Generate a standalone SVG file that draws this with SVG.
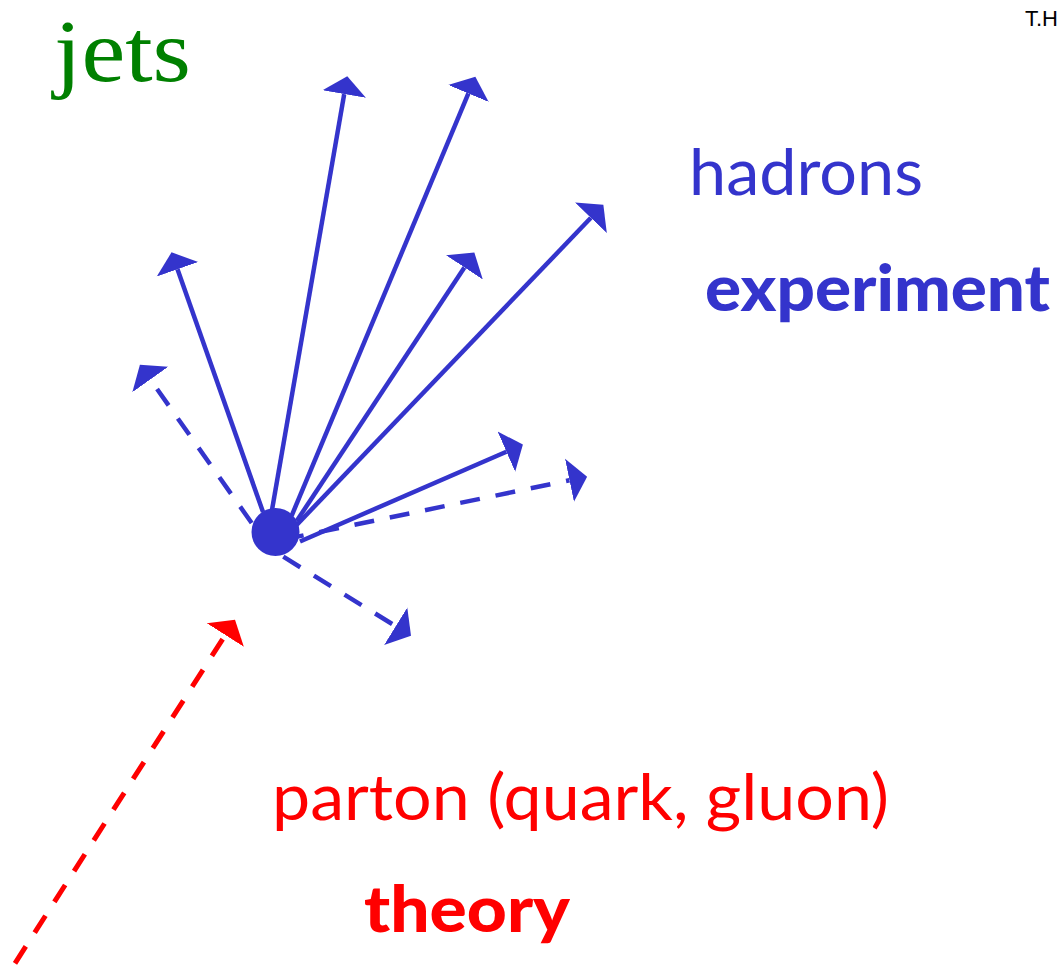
<svg xmlns="http://www.w3.org/2000/svg" width="1060" height="966" viewBox="0 0 1060 966">
<style>
.b{stroke:#3434cc;stroke-width:4.5;fill:none}
.d{stroke-dasharray:20 16}
.r{stroke:#ff0000;stroke-width:5;fill:none;stroke-dasharray:20 16.5}
.lab{font-family:Lato,"DejaVu Sans",sans-serif;font-size:64px}
.bold{font-weight:900}
.blue{fill:#3434cc}
.red{fill:#ff0000}
</style>
<defs>
<marker id="ab" markerUnits="userSpaceOnUse" markerWidth="20" markerHeight="46" viewBox="0 -23 20 46" refX="0" refY="0" orient="auto"><path d="M0,-22 L18,0 L0,22 Z" fill="#3434cc"/></marker>
<marker id="ar" markerUnits="userSpaceOnUse" markerWidth="20" markerHeight="46" viewBox="0 -23 20 46" refX="0" refY="0" orient="auto"><path d="M0,-22 L18,0 L0,22 Z" fill="#ff0000"/></marker>
</defs>
<rect width="1060" height="966" fill="#ffffff"/>
<g id="connectors">
<line class="b" x1="263" y1="512" x2="177.5" y2="269.3" marker-end="url(#ab)"/>
<line class="b" x1="272" y1="510" x2="344.2" y2="94.1" marker-end="url(#ab)"/>
<line class="b" x1="291.7" y1="515.6" x2="468.4" y2="93.4" marker-end="url(#ab)"/>
<line class="b" x1="296.7" y1="521" x2="464.4" y2="267.4" marker-end="url(#ab)"/>
<line class="b" x1="295" y1="526.7" x2="590.9" y2="217.8" marker-end="url(#ab)"/>
<line class="b" x1="300" y1="541.5" x2="506.4" y2="451.7" marker-end="url(#ab)"/>
<line class="b d" x1="284" y1="539.4" x2="569.5" y2="480.3" marker-end="url(#ab)"/>
<line class="b d" x1="251.7" y1="523" x2="150.3" y2="379.5" marker-end="url(#ab)"/>
<line class="b d" x1="283.3" y1="556.7" x2="395.7" y2="626.2" marker-end="url(#ab)"/>
<line class="r" x1="15" y1="963.3" x2="225.3" y2="635" marker-end="url(#ar)"/>
</g>
<g id="vertex"><circle cx="275.5" cy="532" r="24" fill="#3434cc"/></g>
<g id="title"><text x="54" y="81" font-family="'Liberation Serif','Times New Roman',serif" font-size="88" fill="#008000" textLength="137" lengthAdjust="spacingAndGlyphs">jets</text></g>
<g id="author"><text x="1025" y="26" font-family="'Liberation Sans',Arial,sans-serif" font-size="22" fill="#000000">T.H</text></g>
<g id="hadrons"><text class="lab blue" x="689" y="195" textLength="234" lengthAdjust="spacingAndGlyphs">hadrons</text></g>
<g id="experiment"><text class="lab blue bold" x="705" y="311" textLength="345" lengthAdjust="spacingAndGlyphs">experiment</text></g>
<g id="parton"><text class="lab red" x="272" y="820" textLength="617" lengthAdjust="spacingAndGlyphs">parton (quark, gluon)</text></g>
<g id="theory"><text class="lab red bold" x="364" y="932" textLength="206" lengthAdjust="spacingAndGlyphs">theory</text></g>
</svg>
